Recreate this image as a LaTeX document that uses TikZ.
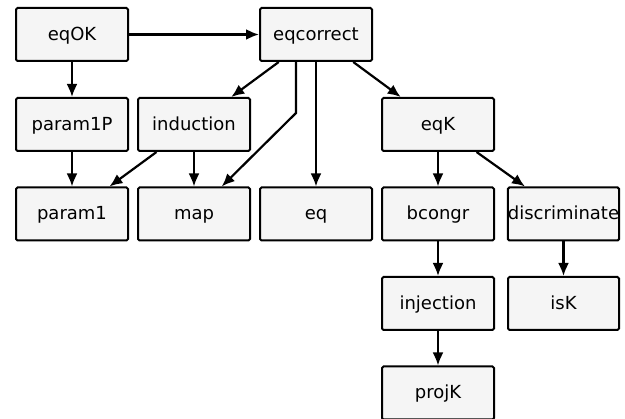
\documentclass[tikz,border=0pt]{standalone}
\usepackage{fontspec}
\setmainfont{DejaVu Sans}
\usetikzlibrary{arrows.meta}
\definecolor{boxfill}{HTML}{F5F5F5}
\tikzset{
  box/.style={draw=black, fill=boxfill, line width=2pt, rounded corners=1.5pt,
    minimum width=112pt, minimum height=53pt, inner sep=0pt,
    text height=12pt, text depth=0pt,
    font=\fontsize{18}{20}\selectfont},
  arr/.style={draw=black, line width=2.2pt, -{Latex[length=13pt,width=11pt]}}
}
\begin{document}
\begin{tikzpicture}[x=1pt,y=-1pt]
\useasboundingbox (0,0) rectangle (625,419);
\node[box] (eqOK) at (72,34.5) {eqOK};
\node[box] (eqcorrect) at (316,34.5) {eqcorrect};
\node[box] (param1P) at (72,124.5) {param1P};
\node[box] (induction) at (194,124.5) {induction};
\node[box] (eqK) at (438,124.5) {eqK};
\node[box] (param1) at (72,214) {param1};
\node[box] (map) at (194,214) {map};
\node[box] (eq) at (316,214) {eq};
\node[box] (bcongr) at (438,214) {bcongr};
\node[box, minimum width=111pt] (discriminate) at (563.5,214) {discriminate};
\node[box] (injection) at (438,303.5) {injection};
\node[box, minimum width=111pt] (isK) at (563.5,303.5) {isK};
\node[box] (projK) at (438,393) {projK};
\coordinate (bend) at (296,113);

\draw[arr] (eqOK) -- (eqcorrect);
\draw[arr] (eqOK) -- (param1P);
\draw[arr] (param1P) -- (param1);
\draw[arr] (induction) -- (param1);
\draw[arr] (induction) -- (map);
\draw[arr] (eqcorrect) -- (induction);
\draw[arr] (eqcorrect.south -| bend) -- (bend) -- (map);
\draw[arr] (eqcorrect) -- (eq);
\draw[arr] (eqcorrect) -- (eqK);
\draw[arr] (eqK) -- (bcongr);
\draw[arr] (eqK) -- (discriminate);
\draw[arr] (bcongr) -- (injection);
\draw[arr] (discriminate) -- (isK);
\draw[arr] (injection) -- (projK);
\end{tikzpicture}
\end{document}
